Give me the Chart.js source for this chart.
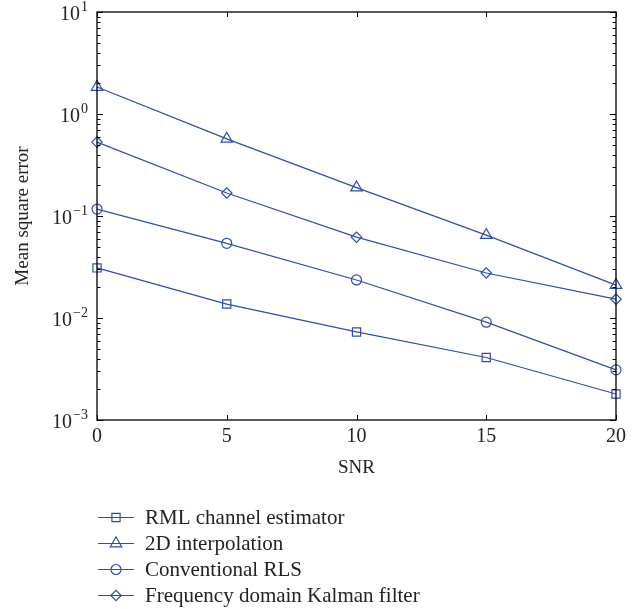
<!DOCTYPE html>
<html>
<head>
<meta charset="utf-8">
<script src="https://cdn.jsdelivr.net/npm/chart.js@4/dist/chart.umd.min.js"></script>
<style>
  html, body { margin: 0; padding: 0; background: #fff; }
  #wrap { width: 644px; height: 609px; }
</style>
</head>
<body>
<div id="wrap"><canvas id="mseChart" width="644" height="609"></canvas></div>
<script>
// SNR values on the x axis
const snr = [0, 5, 10, 15, 20];
const xTicks = [0, 5, 10, 15, 20];
// decade exponents for the log y axis
const yDecades = [1, 0, -1, -2, -3];

// mean square error per estimator
const rmlEstimator = [0.031, 0.0137, 0.0073, 0.0041, 0.0018];
const interp2D = [1.84, 0.57, 0.19, 0.065, 0.021];
const conventionalRLS = [0.117, 0.054, 0.0236, 0.0091, 0.0031];
const kalmanFreq = [0.53, 0.168, 0.062, 0.0276, 0.0153];

const lineColor = 'rgb(46, 78, 168)';
const serif = '"Liberation Serif", "DejaVu Serif", serif';

function makeSet(label, values, style, radius) {
  return {
    label: label,
    data: snr.map((x, i) => ({ x: x, y: values[i] })),
    borderColor: lineColor,
    backgroundColor: 'rgba(0,0,0,0)',
    borderWidth: 1.2,
    pointStyle: style,
    pointRadius: radius,
    pointBorderWidth: 1.2,
    pointBorderColor: lineColor,
    pointBackgroundColor: 'rgba(0,0,0,0)',
    fill: false,
    clip: false,
    tension: 0
  };
}

// frame, inward ticks, 10^n labels and the line+marker legend
const framePlugin = {
  id: 'framePlugin',
  afterDraw(chart) {
    const ctx = chart.ctx;
    const area = chart.chartArea;
    const xs = chart.scales.x;
    const ys = chart.scales.y;

    ctx.save();
    ctx.strokeStyle = '#000';
    ctx.lineWidth = 1.3;
    ctx.strokeRect(area.left, area.top, area.right - area.left, area.bottom - area.top);

    ctx.lineWidth = 1;
    ctx.beginPath();
    // x ticks
    xTicks.forEach(v => {
      const px = Math.round(xs.getPixelForValue(v)) + 0.5;
      ctx.moveTo(px, area.bottom); ctx.lineTo(px, area.bottom - 5);
      ctx.moveTo(px, area.top); ctx.lineTo(px, area.top + 5);
    });
    // y major + minor ticks
    yDecades.forEach(e => {
      for (let m = 1; m <= 9; m++) {
        const v = m * Math.pow(10, e);
        if (v > 10 * 1.0001) continue;
        const py = Math.round(ys.getPixelForValue(v)) + 0.5;
        const len = m === 1 ? 6 : 3.5;
        ctx.moveTo(area.left, py); ctx.lineTo(area.left + len, py);
        ctx.moveTo(area.right, py); ctx.lineTo(area.right - len, py);
      }
    });
    ctx.stroke();

    // y tick labels as 10 with raised exponent
    ctx.fillStyle = '#222';
    ctx.textBaseline = 'middle';
    yDecades.forEach(e => {
      const py = ys.getPixelForValue(Math.pow(10, e));
      const exp = e < 0 ? '\u2212' + (-e) : String(e);
      ctx.font = '14px ' + serif;
      const ew = ctx.measureText(exp).width;
      ctx.textAlign = 'left';
      const expX = area.left - 9 - ew;
      ctx.fillText(exp, expX, py - 5);
      ctx.font = '20px ' + serif;
      ctx.textAlign = 'right';
      ctx.fillText('10', expX - 1, py + 3);
    });

    // legend under the plot
    const x0 = 98, x1 = 134, rowTop = 517, rowGap = 26;
    chart.data.datasets.forEach((ds, i) => {
      const y = rowTop + i * rowGap;
      ctx.strokeStyle = ds.borderColor;
      ctx.lineWidth = ds.borderWidth;
      ctx.beginPath();
      ctx.moveTo(x0, y + 0.5); ctx.lineTo(x1, y + 0.5);
      ctx.stroke();
      ctx.fillStyle = 'rgba(0,0,0,0)';
      Chart.helpers.drawPoint(ctx, {
        pointStyle: ds.pointStyle,
        radius: ds.pointRadius,
        borderWidth: ds.pointBorderWidth
      }, (x0 + x1) / 2, y + 0.5);
      ctx.fillStyle = '#222';
      ctx.font = '21px ' + serif;
      ctx.textAlign = 'left';
      ctx.textBaseline = 'middle';
      ctx.fillText(ds.label, 145, y + 1);
    });
    ctx.restore();
  }
};

document.addEventListener('DOMContentLoaded', function() {
  const ctx = document.getElementById('mseChart').getContext('2d');
  new Chart(ctx, {
    type: 'line',
    data: {
      datasets: [
        makeSet('RML channel estimator', rmlEstimator, 'rect', 5.8),
        makeSet('2D interpolation', interp2D, 'triangle', 6.6),
        makeSet('Conventional RLS', conventionalRLS, 'circle', 5),
        makeSet('Frequency domain Kalman filter', kalmanFreq, 'rectRot', 5.2)
      ]
    },
    options: {
      responsive: false,
      animation: false,
      layout: { padding: { left: 0, right: 28, top: 12, bottom: 129 } },
      plugins: {
        legend: { display: false },
        tooltip: { enabled: false }
      },
      scales: {
        x: {
          type: 'linear',
          min: 0,
          max: 20,
          grid: { display: false, drawTicks: false },
          border: { display: false },
          ticks: {
            stepSize: 5,
            padding: 5,
            color: '#222',
            font: { family: serif, size: 20 }
          },
          title: {
            display: true,
            text: 'SNR',
            color: '#222',
            font: { family: serif, size: 19 },
            padding: { top: 0, bottom: 1 }
          },
          afterFit(scale) { scale.height = 60; }
        },
        y: {
          type: 'logarithmic',
          min: 0.001,
          max: 10,
          grid: { display: false, drawTicks: false },
          border: { display: false },
          ticks: { display: false },
          title: {
            display: true,
            text: 'Mean square error',
            color: '#222',
            font: { family: serif, size: 19 },
            padding: { top: 12, bottom: 0 }
          },
          afterFit(scale) { scale.width = 97; }
        }
      }
    },
    plugins: [framePlugin]
  });
});
</script>
</body>
</html>
